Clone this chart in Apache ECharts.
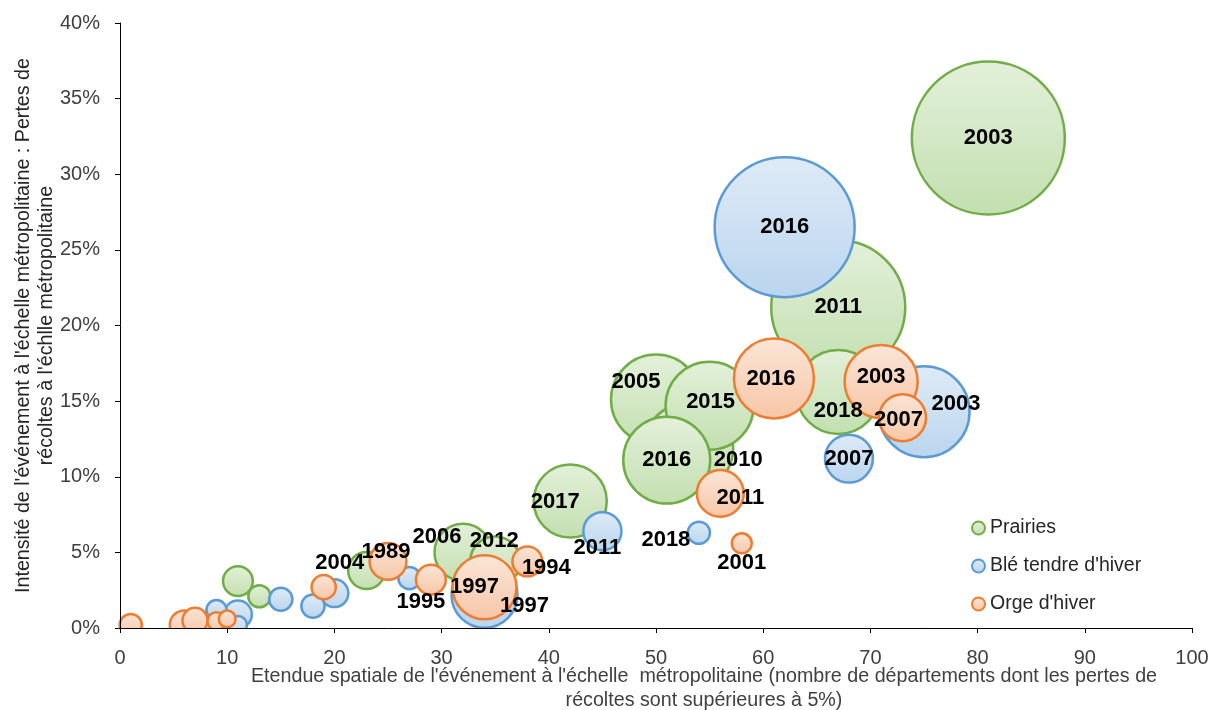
<!DOCTYPE html>
<html>
<head>
<meta charset="utf-8">
<script src="https://cdn.jsdelivr.net/npm/echarts@6/dist/echarts.min.js"></script>
<style>html,body{margin:0;padding:0;background:#fff}#c{width:1220px;height:710px}</style>
</head>
<body>
<div id="c"></div>
<script>
// ---- Data ----
const seriesNames = ['Prairies', "Blé tendre d'hiver", "Orge d'hiver"];

const xPrairies = [81, 67, 67, 50, 55, 51, 53, 42, 32, 35, 23, 11, 13, 9];
const yPrairies = [32.4, 21.2, 15.6, 15.1, 14.7, 11.1, 11.9, 8.4, 5.0, 4.4, 3.8, 3.1, 2.1, 1.1];
const sPrairies = [100, 76.7, 30.1, 34.6, 33.1, 32.3, 34.6, 22.8, 13.9, 10.7, 5.8, 3.8, 2.1, 1.7];
const yearsPrairies = ['2003', '2011', '2018', '2005', '2015', '2016', '2010', '2017', '2006', '2012', '', '', '', ''];

const xBle = [62, 75, 68, 45, 54, 34, 27, 20, 18, 15, 11, 9, 11];
const yBle = [26.5, 14.3, 11.2, 6.4, 6.3, 2.2, 3.3, 2.3, 1.45, 1.9, 0.9, 1.2, 0.2];
const sBle = [83.7, 35.4, 9.8, 6.2, 2.1, 18.6, 2.1, 3.3, 2.3, 2.3, 3.3, 1.7, 1.4];
const yearsBle = ['2016', '2003', '2007', '2011', '2018', '1997', '', '', '', '', '', '', ''];

const xOrge = [61, 71, 73, 56, 58, 38, 34, 29, 25, 19, 1, 6, 7, 9, 10];
const yOrge = [16.5, 16.3, 13.9, 8.9, 5.6, 4.4, 2.7, 3.2, 4.4, 2.7, 0.2, 0.2, 0.5, 0.45, 0.6];
const sOrge = [27.3, 22.8, 9.4, 9.4, 1.7, 3.8, 17.5, 3.8, 5.8, 2.5, 2.1, 3.6, 2.7, 1.4, 1.2];
const yearsOrge = ['2016', '2003', '2007', '2011', '2001', '1994', '1997', '1995', '1989', '2004', '', '', '', '', ''];

const xTicks = [0, 10, 20, 30, 40, 50, 60, 70, 80, 90, 100];
const yTicks = [0, 5, 10, 15, 20, 25, 30, 35, 40];

const xTitle = "Etendue spatiale de l'événement à l'échelle  métropolitaine (nombre de départements dont les pertes de\nrécoltes sont supérieures à 5%)";
const yTitle = "Intensité de l'événement à l'échelle métropolitaine : Pertes de\nrécoltes à l'échlle métropolitaine";

// ---- Styling / label placement (not data) ----
const styles = [
  { stroke: '#70ad47', top: '#e3f0da', bottom: '#c3dfb0' },
  { stroke: '#5b9bd5', top: '#dfebf7', bottom: '#bad5ee' },
  { stroke: '#ed7d31', top: '#fbe6d8', bottom: '#f7c6a6' }
];
const labelOffsets = [
  { '2018': [0, 19], '2005': [-20, -18], '2015': [1, -4], '2010': [50, 12], '2017': [-15, 1], '2006': [-26, -15], '2012': [-1, -21] },
  { '2003': [32, -8], '2011': [-5, 17], '2018': [-33, 7], '1997': [40, 11] },
  { '2016': [-3, 0], '2003': [0, -5], '2007': [-4, 2], '2011': [20, 5], '2001': [0, 20], '1994': [19, 6], '1997': [-10, 0], '1995': [-10, 22], '1989': [-2, -10], '2004': [16, -24] }
];

const groups = [
  [xPrairies, yPrairies, sPrairies, yearsPrairies],
  [xBle, yBle, sBle, yearsBle],
  [xOrge, yOrge, sOrge, yearsOrge]
];

const FONT = "'Liberation Sans', Arial, sans-serif";

const series = groups.map((g, si) => {
  const [xs, ys, ss, yrs] = g;
  const idx = xs.map((_, i) => i).sort((a, b) => ss[b] - ss[a]); // larger bubbles drawn first
  const st = styles[si];
  return {
    name: seriesNames[si],
    type: 'scatter',
    z: 2,
    data: idx.map(i => {
      const off = labelOffsets[si][yrs[i]] || [0, 0];
      return { value: [xs[i], ys[i], ss[i]], name: yrs[i], label: { offset: off } };
    }),
    symbol: 'circle',
    symbolSize: v => Math.sqrt(v[2]) * 15.3,
    itemStyle: {
      color: new echarts.graphic.LinearGradient(0, 0, 0, 1, [
        { offset: 0, color: st.top }, { offset: 1, color: st.bottom }
      ]),
      borderColor: st.stroke,
      borderWidth: 2.5,
      opacity: 1
    },
    label: {
      show: true,
      position: 'inside',
      formatter: '{b}',
      color: '#000',
      fontFamily: FONT,
      fontWeight: 'bold',
      fontSize: 22
    },
    emphasis: { disabled: true }
  };
});

const chart = echarts.init(document.getElementById('c'), null, { renderer: 'canvas' });
chart.setOption({
  animation: false,
  backgroundColor: '#fff',
  grid: { left: 120, right: 28, top: 23, bottom: 82, containLabel: false, outerBoundsMode: 'none' },
  legend: {
    orient: 'vertical',
    left: 971,
    top: 518,
    padding: 0,
    itemWidth: 13,
    itemHeight: 13,
    itemGap: 18,
    icon: 'circle',
    textStyle: { fontFamily: FONT, fontSize: 19.5, lineHeight: 20, color: '#262626' },
    data: seriesNames
  },
  xAxis: {
    type: 'value',
    min: xTicks[0],
    max: xTicks[xTicks.length - 1],
    interval: xTicks[1] - xTicks[0],
    z: 6,
    axisLine: { lineStyle: { color: '#000', width: 1 } },
    axisTick: { show: true, length: 5, lineStyle: { color: '#000' } },
    axisLabel: { fontFamily: FONT, fontSize: 20, color: '#404040', margin: 20 },
    splitLine: { show: false },
    name: xTitle,
    nameLocation: 'middle',
    nameMoveOverlap: false,
    nameGap: 37,
    nameTextStyle: { fontFamily: FONT, fontSize: 19.7, color: '#404040', lineHeight: 24, padding: [0, 0, 0, 96] }
  },
  yAxis: {
    type: 'value',
    min: yTicks[0],
    max: yTicks[yTicks.length - 1],
    interval: yTicks[1] - yTicks[0],
    z: 6,
    axisLine: { show: true, lineStyle: { color: '#000', width: 1 } },
    axisTick: { show: true, length: 5, lineStyle: { color: '#000' } },
    axisLabel: { fontFamily: FONT, fontSize: 20, color: '#404040', margin: 20, formatter: '{value}%' },
    splitLine: { show: false },
    name: yTitle,
    nameLocation: 'middle',
    nameMoveOverlap: false,
    nameRotate: 90,
    nameGap: 62,
    nameTextStyle: { fontFamily: FONT, fontSize: 19.7, color: '#262626', lineHeight: 23 }
  },
  graphic: [
    { type: 'rect', z: 4, silent: true, shape: { x: 0, y: 629, width: 1220, height: 81 }, style: { fill: '#fff' } }
  ],
  series: series
});
</script>
</body>
</html>
